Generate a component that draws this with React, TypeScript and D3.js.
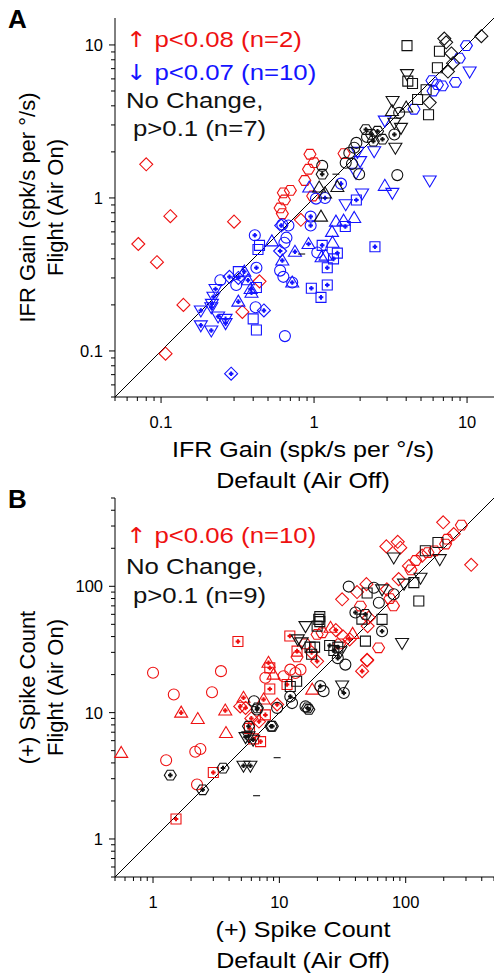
import React from 'react';
import * as d3 from 'd3';

const RED = '#ee1111';
const BLUE = '#1414ff';
const BLACK = '#111111';

// [x, y, shape, plus]  shapes: c circle, s square, d diamond, t tri up, v tri down, h hexagon, - dash
type Pt = [number, number, string, number];

const gainRed: Pt[] = [
  [0.08, 1.66, 'd', 0], [0.115, 0.76, 'd', 0], [0.071, 0.5, 'd', 0], [0.094, 0.38, 'd', 0],
  [0.14, 0.2, 'd', 0], [0.107, 0.096, 'd', 0], [0.3, 0.7, 'd', 0], [0.34, 0.18, 'd', 0],
  [0.44, 0.285, 'd', 0], [0.82, 0.72, 'd', 0],
  [0.94, 1.93, 'h', 0], [1.57, 1.95, 'h', 0], [1.0, 1.7, 'h', 0], [0.92, 1.54, 'h', 0],
  [0.87, 1.3, 'h', 0], [0.63, 1.08, 'h', 0], [0.7, 1.12, 'h', 0], [0.64, 0.97, 'h', 0],
  [0.6, 0.86, 'h', 0], [0.62, 0.79, 'h', 0], [0.98, 1.03, 'h', 0]
];

const gainBlue: Pt[] = [
  [0.61, 0.66, 'd', 1], [0.6, 0.45, 'd', 1], [0.62, 0.39, 't', 1], [0.41, 0.57, 'c', 1],
  [0.44, 0.49, 's', 0], [0.43, 0.46, 's', 0], [0.53, 0.52, 't', 0], [0.32, 0.33, 's', 0],
  [0.42, 0.26, 's', 0], [0.42, 0.35, 'c', 1], [0.244, 0.29, 'c', 0], [0.31, 0.27, 'c', 0],
  [0.28, 0.305, 'd', 1], [0.35, 0.33, 't', 1], [0.37, 0.29, 't', 1], [0.385, 0.254, 't', 1],
  [0.39, 0.24, 't', 1], [0.227, 0.254, 'v', 1], [0.22, 0.226, 'v', 1], [0.215, 0.203, 'v', 1],
  [0.213, 0.193, 'v', 1], [0.182, 0.184, 'v', 1], [0.182, 0.147, 'v', 1], [0.213, 0.136, 'v', 1],
  [0.236, 0.168, 'v', 1], [0.264, 0.162, 'v', 1], [0.264, 0.152, 'v', 1], [0.32, 0.21, 't', 1],
  [0.415, 0.193, 'c', 0], [0.47, 0.184, 'd', 1], [0.4, 0.162, 's', 0], [0.42, 0.137, 's', 0],
  [0.645, 0.125, 'c', 0], [0.287, 0.071, 'd', 1], [0.6, 0.335, 'c', 0], [0.63, 0.305, 'c', 0],
  [0.62, 0.67, 'c', 0], [0.68, 0.66, 'c', 0], [0.95, 0.755, 'c', 1], [0.95, 0.66, 'c', 1],
  [1.39, 0.7, 't', 0], [1.56, 0.71, 't', 0], [1.83, 0.74, 't', 0], [1.6, 0.65, 's', 1],
  [1.31, 0.6, 't', 0], [1.13, 0.49, 's', 1], [1.32, 0.51, 't', 0], [0.92, 0.5, 't', 1],
  [1.05, 0.44, 'c', 0], [1.12, 0.41, 't', 0], [1.42, 0.436, 's', 1], [1.34, 0.4, 's', 1],
  [1.22, 0.35, 's', 1], [2.5, 0.48, 's', 1], [1.22, 0.27, 's', 1], [0.96, 0.257, 's', 1],
  [1.11, 0.224, 's', 1], [0.66, 0.55, 'c', 0], [0.64, 0.51, 'c', 0], [0.75, 0.445, 't', 1],
  [0.72, 0.28, 't', 1], [0.72, 0.28, 'c', 0], [1.89, 0.97, 's', 1], [1.61, 0.91, 'v', 0],
  [2.06, 1.07, 'v', 0], [3.25, 1.08, 'v', 0], [0.93, 1.17, 't', 0], [1.5, 1.24, 'c', 1],
  [1.03, 0.99, 'c', 0], [1.18, 1.0, 'c', 1], [1.19, 0.42, 't', 0], [0.32, 0.3, 'd', 1],
  [9.9, 9.9, 'h', 0], [8.9, 8.2, 'h', 0], [5.9, 5.85, 'h', 0], [6.4, 5.5, 'h', 0],
  [6.9, 5.4, 'h', 0], [6.0, 5.0, 'h', 0], [8.4, 5.7, 'h', 0], [4.5, 3.8, 'h', 0],
  [10.4, 6.7, 'v', 0], [2.9, 3.2, 'v', 0], [1.92, 2.0, 'v', 0], [2.0, 1.74, 'v', 0],
  [5.7, 1.3, 'v', 0], [2.9, 1.2, 't', 0], [2.47, 2.02, 'v', 0], [1.88, 1.46, 'v', 0]
];

const gainBlack: Pt[] = [
  [4.05, 9.9, 's', 0], [7.1, 11, 'd', 0], [7.3, 10.4, 'd', 0], [6.6, 9.1, 's', 0],
  [7.9, 8.8, 'd', 0], [12.4, 11.4, 'd', 0], [4.05, 6.45, 'v', 0], [4.1, 5.8, 's', 0],
  [4.4, 5.6, 's', 0], [6.4, 7.1, 's', 0], [7.5, 6.7, 'd', 0], [8.1, 7.6, 'd', 0],
  [5.4, 5.1, 's', 0], [5.7, 4.2, 'd', 0], [5.6, 3.5, 's', 0], [3.26, 4.3, 'v', 0],
  [4.75, 4.4, 's', 0], [3.23, 3.7, 't', 0], [4.0, 3.9, 't', 0], [3.6, 3.6, 'c', 0],
  [3.35, 3.1, 'v', 0], [3.7, 2.87, 'v', 0], [3.35, 2.6, 'c', 1], [2.18, 2.8, 'h', 1],
  [2.37, 2.6, 'h', 1], [2.6, 2.73, 'h', 1], [2.8, 2.42, 'h', 1], [2.44, 2.35, 'h', 1],
  [2.22, 2.5, 'c', 0], [1.89, 2.29, 'c', 0], [1.83, 2.13, 'c', 0], [1.7, 1.97, 'c', 0],
  [3.4, 2.13, 'v', 0], [1.13, 1.62, 'c', 0], [1.77, 1.67, 'c', 0], [1.13, 1.43, 'h', 1],
  [1.97, 1.43, 'c', 0], [3.5, 1.41, 'c', 0], [1.11, 0.755, 't', 0], [1.08, 1.17, 't', 0],
  [1.18, 1.07, 't', 0], [1.42, 1.18, 't', 0], [1.39, 1.43, '-', 0], [0.83, 0.43, '-', 0],
  [1.61, 1.7, 'c', 0]
];

const spikeRed: Pt[] = [
  [1.0, 20.7, 'c', 0], [1.46, 13.9, 'c', 0], [2.93, 14.5, 'c', 0], [3.45, 21.3, 'c', 0],
  [1.67, 10, 't', 1], [2.26, 8.9, 't', 0], [3.73, 10.4, 't', 1], [3.78, 6.9, 't', 0],
  [0.56, 4.8, 't', 0], [1.27, 4.2, 'c', 0], [2.16, 4.9, 'c', 0], [2.37, 5.15, 'c', 0],
  [2.23, 2.7, 'c', 0], [3.0, 3.36, 's', 1], [1.52, 1.44, 's', 1], [5.2, 13.1, 't', 1],
  [4.9, 11.2, 'd', 1], [5.4, 10.9, 'd', 1], [7.5, 12.7, 't', 1], [8.2, 24.8, 't', 1],
  [8.4, 22.6, 's', 1], [7.75, 18.9, 'c', 0], [8.4, 15.4, 's', 1], [9, 20, 't', 0],
  [9.6, 11.6, 'd', 1], [10.8, 19.4, 'c', 0], [6.25, 6.2, 's', 1], [7.1, 5.9, 's', 1],
  [6.9, 8.5, 'd', 1], [7.75, 9.6, 's', 1], [4.7, 36.6, 's', 1], [12.1, 40.4, 's', 1],
  [13.8, 30.7, 's', 1], [13.8, 27.6, 'h', 0], [12.2, 21.9, 'c', 0], [14.7, 21.9, 'c', 0],
  [13.4, 20.6, 'c', 0], [11.5, 16.7, 's', 1], [18.2, 15.2, 't', 0], [25.4, 47, 't', 0],
  [21.8, 42.9, 'h', 0], [19.9, 41.6, 'h', 0], [19.9, 25.5, 'd', 1], [45.2, 21.3, 'd', 1],
  [49.5, 26.2, 'd', 0], [198, 321, 'd', 0], [276, 305, 'h', 0], [240, 259, 'd', 0],
  [213, 236, 'h', 0], [207, 216, 'h', 0], [70.3, 207, 'd', 0], [86.5, 225, 'd', 0],
  [90.6, 202, 'd', 0], [169, 191, 'h', 0], [330, 148, 'd', 0], [106, 145, 'd', 0],
  [88, 114, 'd', 0], [71, 94.6, 'd', 0], [31.4, 78.9, 'd', 0], [48.9, 104, 'd', 0],
  [41.2, 90, 'd', 0], [43.8, 69.8, 'h', 0], [51, 56.5, 'd', 0], [50, 48.4, 'd', 0],
  [61, 32.6, 'h', 0], [49.5, 25.9, 'd', 0], [28, 45, 'd', 1], [32, 40, 'd', 0],
  [36, 38, 'd', 1], [30, 35, 'h', 0], [38, 42, 't', 0], [120, 160, 'h', 0],
  [135, 175, 'd', 0], [150, 185, 'h', 0], [110, 135, 'h', 0], [75, 80, 'h', 0],
  [80, 70, 'h', 0], [16, 35, 'h', 0], [18, 30, 'd', 1], [6.0, 9.0, 'd', 1], [5.8, 7.5, 's', 1]
];

const spikeBlack: Pt[] = [
  [1.37, 3.2, 'h', 1], [2.47, 2.45, 'h', 1], [3.58, 3.64, 'h', 1], [5.2, 3.8, 'v', 1],
  [5.9, 3.8, 'v', 1], [6.6, 2.2, '-', 0], [9.6, 4.4, '-', 0], [6.3, 12.3, 'c', 0],
  [6.65, 10.6, 'c', 1], [9.6, 10.9, 'c', 0], [5.7, 7.8, 'h', 1], [5.4, 6.4, 'v', 1],
  [8.6, 7.8, 'h', 1], [13.7, 17.7, 's', 0], [12.2, 16.1, 's', 0], [12.2, 13.4, 'c', 1],
  [12.6, 11.9, 'c', 0], [16.1, 11.2, 'c', 0], [16.7, 10.9, 'h', 1], [8.8, 7.8, 'h', 1],
  [6.7, 10.9, 'h', 1], [5.7, 6.5, 'v', 1], [6.2, 6.1, 'v', 1], [20.5, 54.7, 's', 0],
  [19.9, 48.4, 's', 0], [16.1, 48.4, 'v', 0], [30.4, 30.6, 'v', 0], [33.3, 24, 'c', 0],
  [21.1, 16.2, 'c', 1], [22.4, 14.8, 'c', 0], [31.4, 16.4, 'v', 0], [32.4, 14.3, 'c', 1],
  [17.1, 10.6, 'h', 1], [180, 222, 's', 0], [143, 191, 's', 0], [186, 164, 'v', 0],
  [80.4, 169, 'v', 0], [131, 117, 'v', 0], [116, 107, 's', 0], [97, 105, 'v', 0],
  [127, 76.4, 's', 0], [80.4, 86.5, 'c', 0], [35.4, 99.5, 'c', 0], [56, 97.5, 'c', 0],
  [65, 94.6, 'v', 0], [49.5, 88.6, 's', 0], [61.3, 74.2, 'c', 0], [65, 54.7, 's', 0],
  [65, 44.1, 'c', 1], [93.6, 35.6, 'v', 0], [48, 36.8, 's', 0], [20.9, 57.5, 's', 0],
  [20.9, 52.5, 's', 0], [14, 38, 'v', 0], [15, 36, 'v', 0], [17.5, 33, 's', 0],
  [19, 33, 's', 0], [18, 29, 's', 0], [25, 34, 's', 1], [27, 31, 's', 1],
  [29, 33, 's', 1], [29, 27, 'c', 1], [40, 62, 'c', 1], [45, 55, 's', 0], [48, 60, 'h', 1]
];

const legendA = [
  { arrow: '\u2191', text: 'p<0.08 (n=2)', color: RED, dx: 0 },
  { arrow: '\u2193', text: 'p<0.07 (n=10)', color: BLUE, dx: 0 },
  { arrow: '', text: 'No Change,', color: BLACK, dx: 0 },
  { arrow: '', text: 'p>0.1 (n=7)', color: BLACK, dx: 7 }
];
const legendB = [
  { arrow: '\u2191', text: 'p<0.06 (n=10)', color: RED, dx: 0 },
  { arrow: '', text: 'No Change,', color: BLACK, dx: 0 },
  { arrow: '', text: 'p>0.1 (n=9)', color: BLACK, dx: 7 }
];

const FONT = '"Liberation Sans", Arial, sans-serif';

const hex = d3.range(6).map(i => [6 * Math.cos((i * Math.PI) / 3), 5.6 * Math.sin((i * Math.PI) / 3)]);
const shapes: Record<string, string> = {
  c: 'M5.5,0A5.5,5.5 0 1,1 -5.5,0A5.5,5.5 0 1,1 5.5,0Z',
  s: 'M-5,-5H5V5H-5Z',
  d: 'M0,-6.5L6.5,0L0,6.5L-6.5,0Z',
  t: 'M0,-6.5L6.5,4.5L-6.5,4.5Z',
  v: 'M0,6.5L6.5,-4.5L-6.5,-4.5Z',
  h: 'M' + hex.map(p => p.join(',')).join('L') + 'Z',
  '-': 'M-3.5,0H3.5'
};

function Marks({ data, x, y, color }: { data: Pt[]; x: any; y: any; color: string }) {
  return (
    <g>
      {data.map((d, i) => (
        <g key={i} transform={`translate(${x(d[0])},${y(d[1])})`}>
          <path d={shapes[d[2]]} fill="none" stroke={color} strokeWidth={1.1} />
          {d[3] ? <path d="M-2.3,0H2.3M0,-2.3V2.3" stroke={color} strokeWidth={2} /> : null}
        </g>
      ))}
    </g>
  );
}

function Panel(props: any) {
  const { top, domain, letter, sets, legend, xTitle, yTitle, legendY } = props;
  const bottom = top + 379;
  const x = d3.scaleLog().domain(domain).range([115, 494]);
  const y = d3.scaleLog().domain(domain).range([bottom, top]);
  const ticks = x.ticks();
  const isMajor = (v: number) => Math.abs(Math.log10(v) - Math.round(Math.log10(v))) < 1e-6;
  const fmt = (v: number) => String(+v.toPrecision(3));
  return (
    <g>
      <text x={8} y={top + 10} style={{ fontFamily: FONT, fontSize: 26, fontWeight: 'bold' }}>{letter}</text>
      <line x1={115} x2={115} y1={top} y2={bottom} stroke="#000" />
      <line x1={115} x2={494} y1={bottom} y2={bottom} stroke="#000" />
      {ticks.map((t, i) => (
        <g key={i}>
          <line x1={x(t)} x2={x(t)} y1={bottom} y2={bottom + (isMajor(t) ? 6 : 4)} stroke="#000" />
          <line x1={115} x2={115 - (isMajor(t) ? 6 : 4)} y1={y(t)} y2={y(t)} stroke="#000" />
          {isMajor(t) ? (
            <g style={{ fontFamily: FONT, fontSize: 16.5 }}>
              <text x={x(t)} y={bottom + 31} textAnchor="middle">{fmt(t)}</text>
              <text x={103} y={y(t) + 6} textAnchor="end">{fmt(t)}</text>
            </g>
          ) : null}
        </g>
      ))}
      <line x1={x(domain[0])} y1={y(domain[0])} x2={x(domain[1])} y2={y(domain[1])} stroke="#000" strokeWidth={1} />
      {sets.map((s: any, i: number) => (
        <Marks key={i} data={s.data} x={x} y={y} color={s.color} />
      ))}
      <g style={{ fontFamily: FONT, fontSize: 23 }}>
        {legend.map((l: any, i: number) => (
          <text key={i} transform={`translate(${126 + l.dx},${legendY[i]}) scale(1.12,1)`} fill={l.color}>
            {l.arrow ? (
              <tspan style={{ fontFamily: '"DejaVu Sans"', fontSize: 22 }}>{l.arrow + ' '}</tspan>
            ) : null}
            {l.text}
          </text>
        ))}
      </g>
      <g style={{ fontFamily: FONT, fontSize: 22 }} textAnchor="middle">
        <text transform={`translate(303,${bottom + 60}) scale(1.14,1)`}>{xTitle}</text>
        <text transform={`translate(303,${bottom + 91}) scale(1.14,1)`}>Default (Air Off)</text>
        <text transform={`translate(35,${(top + bottom) / 2}) rotate(-90)`}>{yTitle}</text>
        <text transform={`translate(63,${(top + bottom) / 2}) rotate(-90)`}>Flight (Air On)</text>
      </g>
    </g>
  );
}

export default function App() {
  return (
    <svg width={494} height={974} style={{ position: 'absolute', left: 0, top: 0, background: '#fff' }}>
      <Panel
        top={18}
        domain={[0.05, 15]}
        letter="A"
        sets={[
          { data: gainRed, color: RED },
          { data: gainBlue, color: BLUE },
          { data: gainBlack, color: BLACK }
        ]}
        legend={legendA}
        legendY={[47, 80, 108, 136]}
        xTitle="IFR Gain (spk/s per °/s)"
        yTitle="IFR Gain (spk/s per °/s)"
      />
      <Panel
        top={498}
        domain={[0.5, 500]}
        letter="B"
        sets={[
          { data: spikeRed, color: RED },
          { data: spikeBlack, color: BLACK }
        ]}
        legend={legendB}
        legendY={[543, 574, 603]}
        xTitle="(+) Spike Count"
        yTitle="(+) Spike Count"
      />
    </svg>
  );
}
